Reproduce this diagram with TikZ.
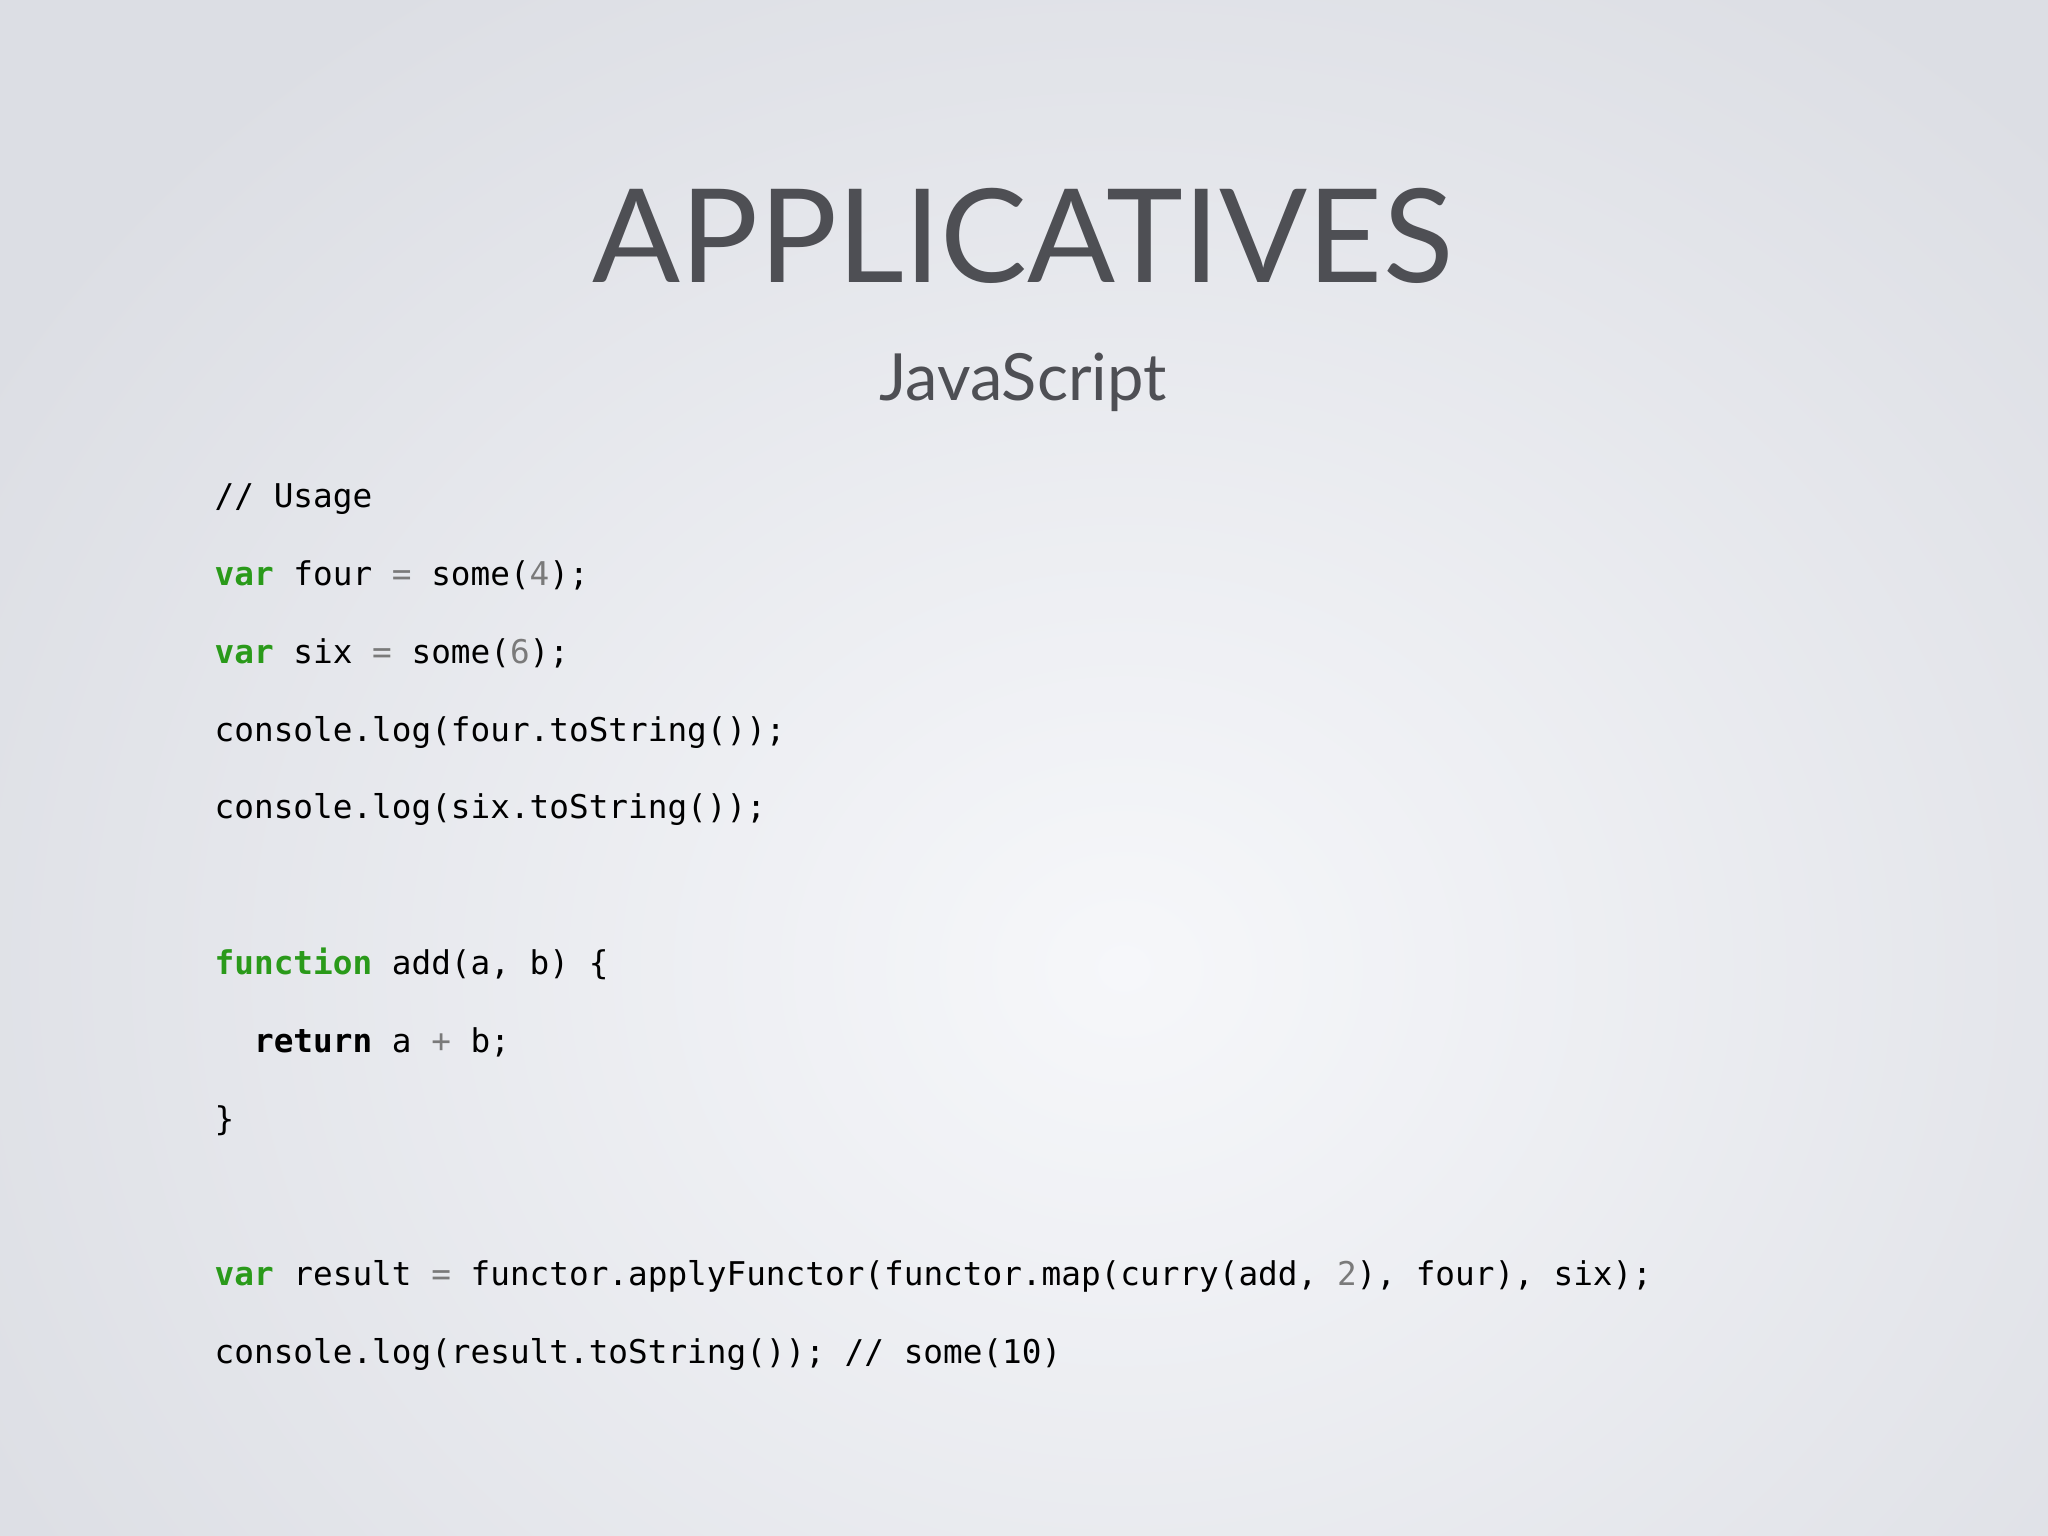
\documentclass[tikz,border=0pt]{standalone}
\usepackage{fontspec}
\setmainfont{Lato}
\setmonofont{DejaVu Sans Mono}
\definecolor{kw}{HTML}{2A9A1A}
\definecolor{num}{HTML}{7A7A7A}
\definecolor{ttl}{HTML}{4E4F54}
\definecolor{bgin}{HTML}{F6F7FA}
\definecolor{bgout}{HTML}{DCDEE4}
\begin{document}
\begin{tikzpicture}[x=0.01cm,y=-0.01cm,
  code/.style={anchor=base west,inner sep=0,font=\ttfamily\fontsize{9.3pt}{10pt}\selectfont,text=black}]
\useasboundingbox (0,0) rectangle (2048,1536);
\begin{scope}
\clip (0,0) rectangle (2048,1536);
\shade[inner color=bgin,outer color=bgout] (-200,-200) rectangle (2448,2136);
\end{scope}
\node[anchor=base,inner sep=0,text=ttl,font=\fontsize{37pt}{37pt}\selectfont] (title) at (1023,282) {APPLICATIVES};
\node[anchor=base,inner sep=0,text=ttl,font=\fontsize{18.5pt}{18.5pt}\selectfont] (sub) at (1023,400) {JavaScript};
\def\K#1{\textcolor{kw}{\bfseries #1}}
\def\N#1{\textcolor{num}{#1}}
\node[code] (l1) at (214,507) {// Usage};
\node[code] (l2) at (214,585) {\K{var} four \N{=} some(\N{4});};
\node[code] (l3) at (214,663) {\K{var} six \N{=} some(\N{6});};
\node[code] (l4) at (214,741) {console.log(four.toString());};
\node[code] (l5) at (214,818) {console.log(six.toString());};
\node[code] (l6) at (214,974) {\K{function} add(a, b) \{};
\node[code] (l7) at (214,1052) {\phantom{xx}\textbf{return} a \N{+} b;};
\node[code] (l8) at (214,1130) {\}};
\node[code] (l9) at (214,1285) {\K{var} result \N{=} functor.applyFunctor(functor.map(curry(add, \N{2}), four), six);};
\node[code] (l10) at (214,1363) {console.log(result.toString()); // some(10)};
\end{tikzpicture}
\end{document}
